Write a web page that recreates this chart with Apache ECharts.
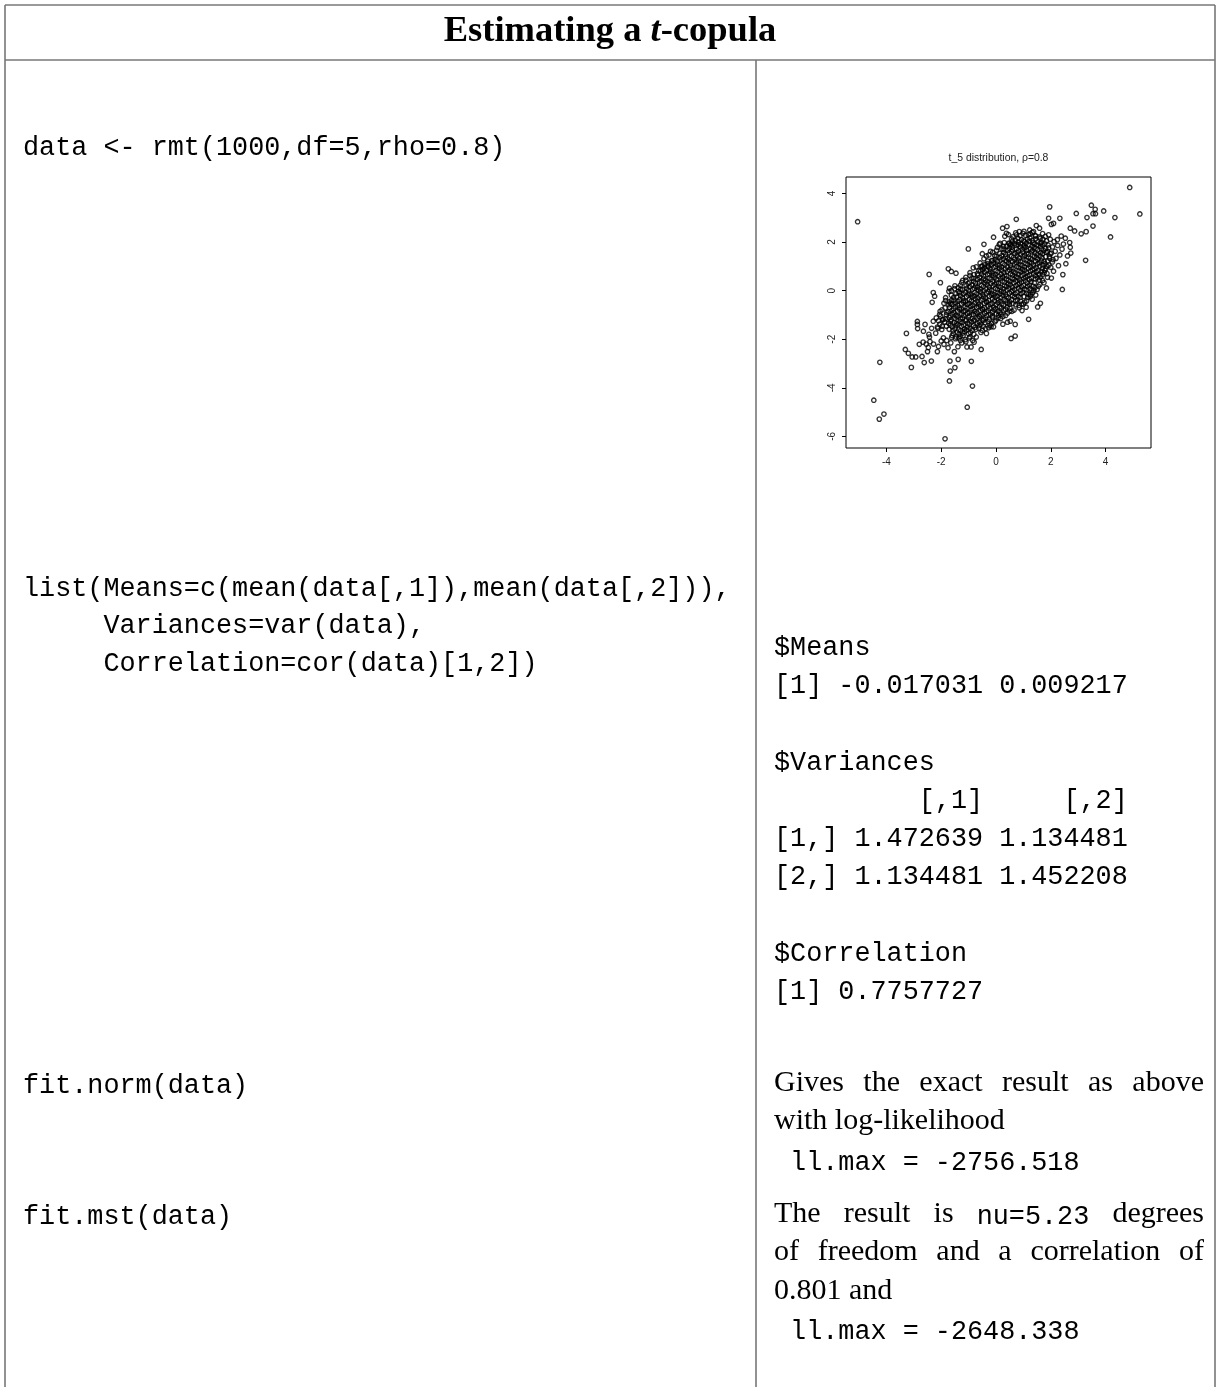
<!DOCTYPE html>
<html>
<head>
<meta charset="utf-8">
<title>Estimating a t-copula</title>
<script src="https://cdn.jsdelivr.net/npm/echarts@6/dist/echarts.min.js"></script>
<style>
  html, body { margin: 0; padding: 0; background: #fff; }
  #chart { width: 1219px; height: 1387px; }
</style>
</head>
<body>
<div id="chart"></div>
<script>
// ---- scatter: axis ticks and ranges ----
const xTicks = [-4, -2, 0, 2, 4];
const yTicks = [-6, -4, -2, 0, 2, 4];
const xRange = [-5.475, 5.657];
const yRange = [-6.48, 4.68];
const plotTitle = 't_5 distribution, \u03c1=0.8';

// sample pairs away from the centre of the cloud
const outerPoints = [
  [4.88,4.25],[5.25,3.16],[3.48,3.52],[3.62,3.35],[3.54,3.17],[3.63,3.17],[3.93,3.28],[4.34,3.01],
  [4.18,2.21],[3.54,2.66],[3.32,3.01],[2.93,3.18],[3.29,2.43],[3.11,2.34],[3.27,1.25],[2.87,2.46],
  [2.71,2.57],[2.33,2.98],[1.96,3.45],[1.92,2.98],[2.02,2.73],[2.10,2.77],[2.38,2.25],[2.53,2.16],
  [2.69,1.98],[2.71,1.79],[2.73,1.55],[2.61,1.43],[2.55,1.11],[2.44,0.66],[2.42,0.05],[2.02,0.52],
  [1.84,0.11],[1.62,-0.52],[1.52,-0.67],[1.19,-1.18],[0.74,2.94],[0.40,2.64],[0.24,2.57],[0.38,2.36],
  [-0.09,2.20],[0.85,2.43],[1.23,2.50],[1.37,2.43],[1.47,2.68],[1.59,2.57],[1.25,2.34],[1.43,2.27],
  [1.62,2.16],[1.80,2.23],[1.92,2.30],[0.55,1.91],[0.48,1.94],
  [1.70,2.35],[1.84,2.05],[1.98,2.12],[2.12,2.02],[2.24,2.10],[1.90,1.88],[2.06,1.80],[2.25,1.86],
  [2.41,1.71],[2.33,1.47],[2.16,1.62],[1.98,1.52],[2.19,1.33],[2.06,1.18],[1.93,1.05],[2.28,1.03],
  [1.82,0.90],[1.76,0.74],[2.10,0.80],[1.96,1.33],[1.08,2.28],[0.98,2.36],[0.62,2.22],[0.75,2.30],
  [2.46,1.92],[1.88,0.55],[1.70,0.42],[1.60,0.25],[1.50,0.05],[1.45,-0.18],[1.32,-0.35],
  [-1.01,1.72],[-0.44,1.91],[-0.50,1.52],[-0.35,1.43],[-0.12,1.24],[-0.50,1.01],[-0.83,0.94],[-0.68,0.70],
  [-0.53,1.00],[-0.41,1.07],[-0.28,1.02],[-0.20,1.62],[0.05,1.78],[0.15,1.95],[0.28,1.82],[-0.05,1.45],
  [-5.05,2.84],[-2.44,0.67],[-2.03,0.33],[-1.74,0.90],[-1.63,0.79],[-1.46,0.72],[-2.29,-0.08],[-2.24,-0.23],
  [-2.33,-0.48],[-1.84,-0.29],[-1.72,-0.03],[-1.63,0.00],[-1.51,0.08],[-1.38,-0.03],[-1.70,0.10],[-1.30,0.22],
  [-1.22,0.42],[-1.10,0.55],[-0.95,0.62],[-1.90,-0.52],[-1.72,-0.58],[-1.62,-0.40],[-2.04,-0.85],[-2.06,-0.98],
  [-1.95,-1.20],[-2.18,-1.12],
  [-3.27,-1.76],[-2.87,-1.27],[-2.87,-1.39],[-2.86,-1.56],[-2.59,-1.39],[-2.65,-1.67],[-2.80,-2.21],[-2.36,-2.90],
  [-3.09,-3.16],[-4.24,-2.95],[-4.46,-4.51],[-4.26,-5.29],[-4.09,-5.08],[-1.86,-6.10],[-1.70,-3.72],[-1.67,-3.31],
  [-1.50,-3.17],[-1.38,-2.83],[-0.86,-3.93],[-1.05,-4.80],[-0.90,-2.91],[-1.68,-2.90],[-2.14,-2.51],[-2.47,-2.34],
  [-3.31,-2.42],[-3.20,-2.58],[-3.06,-2.73],[-2.93,-2.73],[-2.70,-2.71],[-2.62,-2.96],[-2.43,-1.91],[-2.41,-2.10],
  [-2.50,-2.51],[-2.66,-2.12],[-2.29,-1.26],[-2.14,-1.50],[-1.98,-1.60],[-1.92,-1.94],[-2.00,-2.07],[-1.90,-2.21],
  [-1.80,-2.05],[-2.20,-1.75],[-2.35,-1.55],[-2.28,-2.20],[-2.10,-2.30],[-1.65,-2.15],[-1.75,-2.35],[-1.52,-2.51],
  [-1.39,-2.31],[-1.46,-1.91],[-1.30,-2.05],[-1.20,-1.85],[-1.10,-2.10],[-1.06,-2.32],[-0.91,-2.32],[-0.72,-1.91],
  [-0.54,-2.42],[-0.35,-1.76],[-0.27,-1.53],[-0.18,-1.49],[-0.09,-1.49],[-2.45,-1.80],[-2.55,-2.20],[-1.60,-1.85],
  [-1.35,-1.95],[-0.95,-1.90],[-0.85,-2.05],
  [0.00,-1.22],[0.17,-1.15],[0.52,-1.26],[0.70,-1.39],[0.55,-1.97],[0.70,-1.87],[0.58,-0.85],[0.35,-1.02],
  [0.85,-0.70],[1.00,-0.55],[1.12,-0.42],[0.95,-0.82],[0.42,-1.30],[0.25,-1.38],[1.25,-0.25],[1.10,-0.68]
];

// sample pairs on the rim of the dense centre
const rimPoints = [
  [0.32,2.24],[0.45,2.31],[0.12,1.90],[0.30,1.98],[0.22,1.72],[-0.12,1.58],[0.02,1.66],[-0.26,1.47],
  [-0.44,1.31],[-0.30,1.22],[-0.58,1.14],[-0.72,0.98],[-0.49,0.88],[-0.63,0.82],[-0.95,0.74],[-0.80,0.66],
  [-0.88,0.52],[-1.10,0.43],[-1.25,0.33],[-1.02,0.30],[-1.38,0.12],[-1.50,0.20],[-1.29,0.06],[-1.46,-0.12],
  [-1.63,-0.19],[-1.55,-0.28],[-1.71,-0.46],[-1.84,-0.41],[-1.66,-0.52],[-1.86,-0.71],[-1.97,-0.79],[-1.80,-0.90],
  [-2.02,-1.05],[-1.93,-1.18],[-2.10,-1.24],[-2.05,-1.38],[-1.96,-1.46],[-2.12,-1.55],
  [1.58,2.21],[1.72,2.12],[1.66,1.98],[1.78,1.93],[1.92,1.76],[1.88,1.62],[2.02,1.55],[1.95,1.41],
  [2.08,1.28],[1.88,1.22],[1.86,1.00],[2.00,0.96],[1.78,0.84],[1.70,0.66],[1.86,0.70],[1.58,0.44],
  [1.62,0.56],[1.75,0.33],[1.42,0.12],[1.55,0.18],[1.38,0.01],[1.26,-0.17],[1.34,-0.08],[1.16,-0.28],
  [1.05,-0.47],[0.93,-0.55],[0.84,-0.61],[0.66,-0.80],[0.50,-0.84],[0.42,-0.92],[0.25,-1.06],[0.18,-0.97],
  [0.08,-1.12],[-0.04,-1.28],[-0.16,-1.35],[-0.22,-1.42],[-0.38,-1.56],[-0.50,-1.64],[-0.55,-1.72],
  [-1.62,-1.93],[-1.48,-1.98],[-1.30,-1.88],[-1.12,-2.02],[-0.98,-1.95],[-0.80,-2.12],[-1.25,-2.15],
  [0.72,2.38],[0.88,2.27],[1.02,2.44],[1.18,2.31],[1.32,2.40],[1.45,2.25]
];

// sample pairs in the dense centre of the cloud
const corePoints = [
  [0.57,2.13],[0.71,2.06],[0.80,2.16],[0.93,2.10],[1.01,2.05],[1.15,2.12],[1.24,2.17],[1.33,2.07],[1.44,2.13],
  [0.47,1.96],[0.60,2.03],[0.68,1.94],[0.82,2.00],[0.90,1.93],[1.04,2.02],[1.10,1.95],[1.22,2.04],[1.35,1.97],[1.41,1.92],[1.53,2.01],[1.61,1.95],
  [0.39,1.83],[0.52,1.88],[0.58,1.80],[0.73,1.86],[0.81,1.90],[0.89,1.81],[1.02,1.85],[1.09,1.79],[1.20,1.89],[1.31,1.84],[1.39,1.78],[1.50,1.87],[1.62,1.82],[1.70,1.88],
  [0.29,1.71],[0.43,1.66],[0.49,1.75],[0.60,1.68],[0.74,1.72],[0.82,1.64],[0.95,1.70],[1.03,1.76],[1.12,1.67],[1.26,1.71],[1.33,1.65],[1.46,1.74],[1.53,1.68],[1.66,1.72],[1.74,1.65],[1.81,1.73],
  [0.14,1.53],[0.28,1.58],[0.35,1.50],[0.48,1.56],[0.56,1.61],[0.69,1.52],[0.77,1.57],[0.90,1.49],[0.97,1.59],[1.12,1.54],[1.18,1.50],[1.30,1.60],[1.42,1.55],[1.50,1.48],[1.63,1.57],[1.70,1.52],[1.83,1.58],
  [0.01,1.41],[0.14,1.36],[0.21,1.44],[0.35,1.39],[0.43,1.34],[0.56,1.42],[0.64,1.37],[0.77,1.45],[0.85,1.35],[0.98,1.40],[1.05,1.46],[1.19,1.38],[1.26,1.33],[1.40,1.42],[1.47,1.37],[1.61,1.44],[1.68,1.35],[1.81,1.40],
  [-0.16,1.24],[-0.03,1.29],[0.05,1.21],[0.18,1.26],[0.26,1.31],[0.39,1.22],[0.47,1.27],[0.60,1.19],[0.68,1.28],[0.81,1.24],[0.89,1.20],[1.02,1.30],[1.10,1.25],[1.23,1.18],[1.31,1.27],[1.44,1.22],[1.52,1.29],[1.65,1.24],[1.76,1.20],
  [-0.31,1.11],[-0.17,1.06],[-0.10,1.14],[0.04,1.09],[0.11,1.03],[0.25,1.12],[0.32,1.07],[0.46,1.15],[0.53,1.05],[0.67,1.10],[0.74,1.16],[0.88,1.08],[0.95,1.03],[1.09,1.12],[1.16,1.07],[1.30,1.14],[1.37,1.04],[1.51,1.10],[1.58,1.15],[1.71,1.06],[1.79,1.11],
  [-0.43,0.94],[-0.29,0.99],[-0.22,0.91],[-0.08,0.96],[-0.01,1.00],[0.13,0.92],[0.20,0.97],[0.34,0.89],[0.41,0.98],[0.55,0.94],[0.62,0.90],[0.76,1.00],[0.83,0.95],[0.97,0.88],[1.04,0.97],[1.18,0.93],[1.25,0.99],[1.39,0.91],[1.46,0.96],[1.60,1.01],[1.69,0.92],
  [-0.56,0.81],[-0.42,0.76],[-0.35,0.84],[-0.21,0.79],[-0.14,0.73],[0.00,0.82],[0.07,0.77],[0.21,0.85],[0.28,0.75],[0.42,0.80],[0.49,0.86],[0.63,0.78],[0.70,0.73],[0.84,0.82],[0.91,0.77],[1.05,0.84],[1.12,0.74],[1.26,0.80],[1.33,0.85],[1.47,0.76],[1.54,0.81],[1.66,0.78],
  [-0.66,0.64],[-0.52,0.69],[-0.45,0.61],[-0.31,0.66],[-0.24,0.70],[-0.10,0.62],[-0.03,0.67],[0.11,0.59],[0.18,0.68],[0.32,0.64],[0.39,0.60],[0.53,0.70],[0.60,0.65],[0.74,0.58],[0.81,0.67],[0.95,0.63],[1.02,0.69],[1.16,0.61],[1.23,0.66],[1.37,0.71],[1.44,0.62],[1.57,0.67],
  [-0.81,0.51],[-0.67,0.46],[-0.60,0.54],[-0.46,0.49],[-0.39,0.43],[-0.25,0.52],[-0.18,0.47],[-0.04,0.55],[0.03,0.45],[0.17,0.50],[0.24,0.56],[0.38,0.48],[0.45,0.43],[0.59,0.52],[0.66,0.47],[0.80,0.54],[0.87,0.44],[1.01,0.50],[1.08,0.55],[1.22,0.46],[1.29,0.51],[1.43,0.48],[1.51,0.53],
  [-0.96,0.34],[-0.82,0.39],[-0.75,0.31],[-0.61,0.36],[-0.54,0.40],[-0.40,0.32],[-0.33,0.37],[-0.19,0.29],[-0.12,0.38],[0.02,0.34],[0.09,0.30],[0.23,0.40],[0.30,0.35],[0.44,0.28],[0.51,0.37],[0.65,0.33],[0.72,0.39],[0.86,0.31],[0.93,0.36],[1.07,0.41],[1.14,0.32],[1.28,0.37],[1.40,0.33],
  [-1.09,0.21],[-0.95,0.16],[-0.88,0.24],[-0.74,0.19],[-0.67,0.13],[-0.53,0.22],[-0.46,0.17],[-0.32,0.25],[-0.25,0.15],[-0.11,0.20],[-0.04,0.26],[0.10,0.18],[0.17,0.13],[0.31,0.22],[0.38,0.17],[0.52,0.24],[0.59,0.14],[0.73,0.20],[0.80,0.25],[0.94,0.16],[1.01,0.21],[1.15,0.18],[1.22,0.23],[1.35,0.19],
  [-1.21,0.04],[-1.07,0.09],[-1.00,0.01],[-0.86,0.06],[-0.79,0.10],[-0.65,0.02],[-0.58,0.07],[-0.44,-0.01],[-0.37,0.08],[-0.23,0.04],[-0.16,0.00],[-0.02,0.10],[0.05,0.05],[0.19,-0.02],[0.26,0.07],[0.40,0.03],[0.47,0.09],[0.61,0.01],[0.68,0.06],[0.82,0.11],[0.89,0.02],[1.03,0.07],[1.10,0.03],[1.24,0.08],[1.30,0.02],
  [-1.33,-0.09],[-1.19,-0.14],[-1.12,-0.06],[-0.98,-0.11],[-0.91,-0.17],[-0.77,-0.08],[-0.70,-0.13],[-0.56,-0.05],[-0.49,-0.15],[-0.35,-0.10],[-0.28,-0.04],[-0.14,-0.12],[-0.07,-0.17],[0.07,-0.08],[0.14,-0.13],[0.28,-0.06],[0.35,-0.16],[0.49,-0.10],[0.56,-0.05],[0.70,-0.14],[0.77,-0.09],[0.91,-0.12],[0.98,-0.07],[1.12,-0.11],[1.19,-0.16],
  [-1.43,-0.26],[-1.29,-0.21],[-1.22,-0.29],[-1.08,-0.24],[-1.01,-0.18],[-0.87,-0.27],[-0.80,-0.22],[-0.66,-0.30],[-0.59,-0.20],[-0.45,-0.25],[-0.38,-0.31],[-0.24,-0.23],[-0.17,-0.18],[-0.03,-0.27],[0.04,-0.22],[0.18,-0.29],[0.25,-0.19],[0.39,-0.25],[0.46,-0.30],[0.60,-0.21],[0.67,-0.26],[0.81,-0.23],[0.88,-0.28],[1.02,-0.24],
  [-1.53,-0.39],[-1.39,-0.44],[-1.32,-0.36],[-1.18,-0.41],[-1.11,-0.45],[-0.97,-0.37],[-0.90,-0.42],[-0.76,-0.34],[-0.69,-0.43],[-0.55,-0.39],[-0.48,-0.35],[-0.34,-0.45],[-0.27,-0.40],[-0.13,-0.33],[-0.06,-0.42],[0.08,-0.38],[0.15,-0.44],[0.29,-0.36],[0.36,-0.41],[0.50,-0.46],[0.57,-0.37],[0.71,-0.42],[0.78,-0.38],[0.90,-0.43],
  [-1.61,-0.56],[-1.47,-0.51],[-1.40,-0.59],[-1.26,-0.54],[-1.19,-0.48],[-1.05,-0.57],[-0.98,-0.52],[-0.84,-0.60],[-0.77,-0.50],[-0.63,-0.55],[-0.56,-0.61],[-0.42,-0.53],[-0.35,-0.48],[-0.21,-0.57],[-0.14,-0.52],[0.00,-0.59],[0.07,-0.49],[0.21,-0.55],[0.28,-0.60],[0.42,-0.51],[0.49,-0.56],[0.62,-0.53],[0.72,-0.58],
  [-1.69,-0.69],[-1.55,-0.74],[-1.48,-0.66],[-1.34,-0.71],[-1.27,-0.75],[-1.13,-0.67],[-1.06,-0.72],[-0.92,-0.64],[-0.85,-0.73],[-0.71,-0.69],[-0.64,-0.65],[-0.50,-0.75],[-0.43,-0.70],[-0.29,-0.63],[-0.22,-0.72],[-0.08,-0.68],[-0.01,-0.74],[0.13,-0.66],[0.20,-0.71],[0.34,-0.76],[0.41,-0.67],[0.51,-0.72],
  [-1.75,-0.86],[-1.61,-0.81],[-1.54,-0.89],[-1.40,-0.84],[-1.33,-0.78],[-1.19,-0.87],[-1.12,-0.82],[-0.98,-0.90],[-0.91,-0.80],[-0.77,-0.85],[-0.70,-0.91],[-0.56,-0.83],[-0.49,-0.78],[-0.35,-0.87],[-0.28,-0.82],[-0.14,-0.89],[-0.07,-0.79],[0.07,-0.85],[0.14,-0.90],[0.28,-0.81],
  [-1.81,-0.99],[-1.67,-1.04],[-1.60,-0.96],[-1.46,-1.01],[-1.39,-1.05],[-1.25,-0.97],[-1.18,-1.02],[-1.04,-0.94],[-0.97,-1.03],[-0.83,-0.99],[-0.76,-0.95],[-0.62,-1.05],[-0.55,-1.00],[-0.41,-0.93],[-0.34,-1.02],[-0.20,-0.98],[-0.13,-1.04],[0.01,-0.96],[0.09,-1.01],
  [-1.85,-1.16],[-1.71,-1.11],[-1.64,-1.19],[-1.50,-1.14],[-1.43,-1.08],[-1.29,-1.17],[-1.22,-1.12],[-1.08,-1.20],[-1.01,-1.10],[-0.87,-1.15],[-0.80,-1.21],[-0.66,-1.13],[-0.59,-1.08],[-0.45,-1.17],[-0.38,-1.12],[-0.24,-1.19],[-0.14,-1.10],
  [-1.87,-1.29],[-1.73,-1.34],[-1.66,-1.26],[-1.52,-1.31],[-1.45,-1.35],[-1.31,-1.27],[-1.24,-1.32],[-1.10,-1.24],[-1.03,-1.33],[-0.89,-1.29],[-0.82,-1.25],[-0.68,-1.35],[-0.61,-1.30],[-0.47,-1.23],[-0.40,-1.32],[-0.29,-1.28],
  [-1.81,-1.46],[-1.67,-1.41],[-1.60,-1.49],[-1.46,-1.44],[-1.39,-1.38],[-1.25,-1.47],[-1.18,-1.42],[-1.04,-1.50],[-0.97,-1.40],[-0.83,-1.45],[-0.76,-1.51],[-0.62,-1.43],[-0.55,-1.38],[-0.46,-1.47],
  [-1.71,-1.59],[-1.57,-1.64],[-1.50,-1.56],[-1.36,-1.61],[-1.29,-1.65],[-1.15,-1.57],[-1.08,-1.62],[-0.94,-1.54],[-0.87,-1.63],[-0.73,-1.59],[-0.63,-1.55],
  [-1.56,-1.76],[-1.42,-1.71],[-1.35,-1.79],[-1.21,-1.74],[-1.14,-1.68],[-1.00,-1.77],[-0.93,-1.72],[-0.81,-1.80]
];

// ---- table text ----
const tableTitle = [['Estimating a ', 'title'], ['t', 'titleItalic'], ['-copula', 'title']];
const callSim = 'data <- rmt(1000,df=5,rho=0.8)';
const callList = [
  'list(Means=c(mean(data[,1]),mean(data[,2])),',
  '     Variances=var(data),',
  '     Correlation=cor(data)[1,2])'
];
const outList = [
  '$Means',
  '[1] -0.017031 0.009217',
  '',
  '$Variances',
  '         [,1]     [,2]',
  '[1,] 1.472639 1.134481',
  '[2,] 1.134481 1.452208',
  '',
  '$Correlation',
  '[1] 0.7757727'
];
const callNorm = 'fit.norm(data)';
const noteNorm = [
  { words: ['Gives', 'the', 'exact', 'result', 'as', 'above'], justify: true },
  { words: ['with', 'log-likelihood'], justify: false },
  { code: ' ll.max = -2756.518' }
];
const callMst = 'fit.mst(data)';
const noteMst = [
  { words: ['The', 'result', 'is', '`nu=5.23', 'degrees'], justify: true },
  { words: ['of', 'freedom', 'and', 'a', 'correlation', 'of'], justify: true },
  { words: ['0.801', 'and'], justify: false },
  { code: ' ll.max = -2648.338' }
];

// ---- layout ----
const FONT = {
  mono: '26.8px "Liberation Mono", monospace',
  serif: '30px "Liberation Serif", serif',
  title: 'bold 36.5px "Liberation Serif", serif',
  titleItalic: 'italic bold 36.5px "Liberation Serif", serif',
  plot: '10.4px "Liberation Sans", sans-serif'
};
// distance from the text's vertical middle to its alphabetic baseline
const MID = { mono: 0.267 * 26.8, serif: 0.3375 * 30, title: 0.3375 * 36.5, titleItalic: 0.3375 * 36.5 };
const L = {
  left: 5, right: 1215, top: 5, head: 60, split: 756, bottom: 1387,
  colL: 23, colR: 774, colREnd: 1204,
  titleBase: 44, simBase: 155,
  listBase: 596, listStep: 37.5,
  outBase: 655, outStep: 38.2,
  normBase: 1093, mstBase: 1224, noteStep: 38.5,
  rule: '#777', ruleW: 1.6
};

const measureCtx = document.createElement('canvas').getContext('2d');
function widthOf(str, key) { measureCtx.font = FONT[key]; return measureCtx.measureText(str).width; }

function textEl(str, x, base, key) {
  return {
    type: 'text', x: x, y: base - MID[key], silent: true,
    style: { text: str, font: FONT[key], fill: '#000', align: 'left', verticalAlign: 'middle',
             textAlign: 'left', textVerticalAlign: 'middle' }
  };
}
function ruleEl(x1, y1, x2, y2) {
  return { type: 'line', silent: true, shape: { x1: x1, y1: y1, x2: x2, y2: y2 },
           style: { stroke: L.rule, lineWidth: L.ruleW } };
}
function wordLine(words, base, justify) {
  const parts = words.map(w => w.startsWith('`') ? [w.slice(1), 'mono'] : [w, 'serif']);
  const widths = parts.map(p => widthOf(p[0], p[1]));
  const total = widths.reduce((a, b) => a + b, 0);
  const gap = (justify && parts.length > 1) ? (L.colREnd - L.colR - total) / (parts.length - 1)
                                            : widthOf(' ', 'serif');
  const out = [];
  let x = L.colR;
  parts.forEach((p, i) => { out.push(textEl(p[0], x, base, p[1])); x += widths[i] + gap; });
  return out;
}
function noteLines(note, base) {
  let out = [];
  note.forEach((ln, i) => {
    const b = base + i * L.noteStep;
    if (ln.code) out.push(textEl(ln.code, L.colR, b, 'mono'));
    else out = out.concat(wordLine(ln.words, b, ln.justify));
  });
  return out;
}

let els = [];
// rules of the table
els.push(ruleEl(L.left, L.top, L.right, L.top));
els.push(ruleEl(L.left, L.head, L.right, L.head));
els.push(ruleEl(L.left, L.top, L.left, L.bottom));
els.push(ruleEl(L.right, L.top, L.right, L.bottom));
els.push(ruleEl(L.split, L.head, L.split, L.bottom));

// heading
const tw = tableTitle.map(s => widthOf(s[0], s[1]));
let tx = (L.left + L.right) / 2 - tw.reduce((a, b) => a + b, 0) / 2;
tableTitle.forEach((s, i) => { els.push(textEl(s[0], tx, L.titleBase, s[1])); tx += tw[i]; });

// code column
els.push(textEl(callSim, L.colL, L.simBase, 'mono'));
callList.forEach((s, i) => els.push(textEl(s, L.colL, L.listBase + i * L.listStep, 'mono')));
els.push(textEl(callNorm, L.colL, L.normBase, 'mono'));
els.push(textEl(callMst, L.colL, L.mstBase, 'mono'));

// result column
outList.forEach((s, i) => { if (s) els.push(textEl(s, L.colR, L.outBase + i * L.outStep, 'mono')); });
els = els.concat(noteLines(noteNorm, L.normBase));
els = els.concat(noteLines(noteMst, L.mstBase));

// scatter heading
const grid = { left: 846, top: 177, width: 305, height: 271 };
els.push({
  type: 'text', x: grid.left + grid.width / 2, y: 158, silent: true,
  style: { text: plotTitle, font: FONT.plot, fill: '#222', align: 'center', verticalAlign: 'middle',
           textAlign: 'center', textVerticalAlign: 'middle' }
});

const chart = echarts.init(document.getElementById('chart'), null, { renderer: 'canvas' });
chart.setOption({
  animation: false,
  backgroundColor: '#fff',
  grid: Object.assign({ show: true, borderColor: '#000', borderWidth: 1, backgroundColor: 'transparent' }, grid),
  xAxis: {
    type: 'value', min: xRange[0], max: xRange[1],
    axisLine: { show: false, onZero: false }, splitLine: { show: false },
    axisTick: { show: true, length: 4, customValues: xTicks, lineStyle: { color: '#000', width: 1 } },
    axisLabel: { customValues: xTicks, fontSize: 10, fontFamily: 'Liberation Sans', color: '#222', margin: 9 }
  },
  yAxis: {
    type: 'value', min: yRange[0], max: yRange[1],
    axisLine: { show: false, onZero: false }, splitLine: { show: false },
    axisTick: { show: true, length: 4, customValues: yTicks, lineStyle: { color: '#000', width: 1 } },
    axisLabel: { customValues: yTicks, fontSize: 10, fontFamily: 'Liberation Sans', color: '#222',
                 margin: 9, rotate: 90 }
  },
  series: [{
    type: 'scatter', silent: true, progressive: 0, large: false,
    symbol: 'circle', symbolSize: 4.4,
    itemStyle: { color: 'rgba(0,0,0,0)', borderColor: '#000', borderWidth: 1.35 },
    data: outerPoints.concat(rimPoints, corePoints)
  }],
  graphic: { elements: els }
});
</script>
</body>
</html>
